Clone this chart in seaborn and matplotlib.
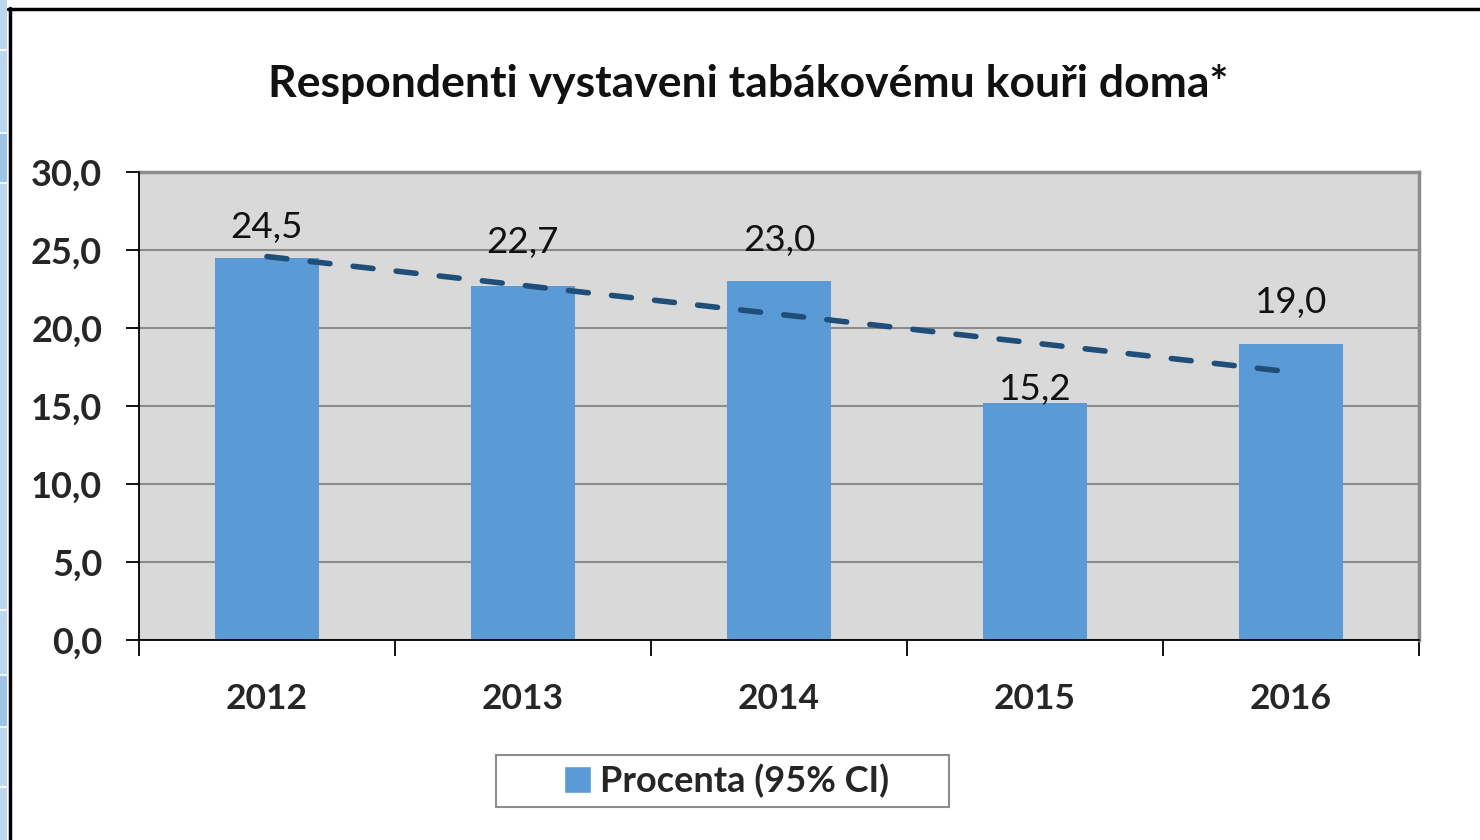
import numpy as np
import pandas as pd
import matplotlib
matplotlib.use("Agg")
import matplotlib.pyplot as plt
from matplotlib.patches import Patch, Rectangle
from matplotlib.lines import Line2D
import seaborn as sns

# ---- data ----
years = ["2012", "2013", "2014", "2015", "2016"]
values = [24.5, 22.7, 23.0, 15.2, 19.0]
value_labels = ["24,5", "22,7", "23,0", "15,2", "19,0"]
y_ticks = [0, 5, 10, 15, 20, 25, 30]
y_tick_labels = ["0,0", "5,0", "10,0", "15,0", "20,0", "25,0", "30,0"]
series_name = "Procenta (95% CI)"
title = "Respondenti vystaveni tabákovému kouři doma*"

# label offsets above bar tops (points) - layout only
label_offsets = [14, 23.5, 22, 2, 22]

BAR = "#5B9BD5"
TREND = "#1F4E79"
BG = "#D9D9D9"
GRID = "#8C8C8C"

sns.set_theme(style="white")
plt.rcParams["font.family"] = ["Lato", "DejaVu Sans"]

W, H = 1480, 840
fig = plt.figure(figsize=(W / 100, H / 100), dpi=100)
fig.patch.set_facecolor("white")

ax = fig.add_axes([139 / W, 1 - 640 / H, 1280 / W, 468 / H])
ax.set_facecolor(BG)

df = pd.DataFrame({"year": years, "value": values})
sns.barplot(data=df, x="year", y="value", color=BAR, saturation=1,
            width=0.41, linewidth=0, ax=ax, zorder=3)

# linear trend line
sns.regplot(x=np.arange(len(values)), y=np.array(values), ci=None,
            scatter=False, truncate=True, ax=ax,
            line_kws=dict(color=TREND, lw=4.0, ls=(0, (3.6, 4.2)),
                          dash_capstyle="round", zorder=4))

ax.set_xlim(-0.5, len(years) - 0.5)
ax.set_ylim(0, 30)
ax.set_yticks(y_ticks)
ax.set_yticklabels(y_tick_labels, fontsize=26, fontweight="bold")
ax.set_xticks(range(len(years)))
ax.set_xticklabels(years, fontsize=25.5, fontweight="bold")
ax.set_xticks(np.arange(-0.5, len(years)), minor=True)
ax.set_xlabel("")
ax.set_ylabel("")

ax.yaxis.grid(True, color=GRID, lw=1.5)
ax.xaxis.grid(False)
ax.set_axisbelow(True)

ax.tick_params(axis="y", which="major", left=True, direction="out",
               length=9.5, width=1.3, color="black", pad=17)
ax.tick_params(axis="x", which="major", bottom=True, length=0, pad=31)
ax.tick_params(axis="x", which="minor", bottom=True, direction="out",
               length=11.5, width=1.3, color="black")

for s in ["top", "right"]:
    ax.spines[s].set_color(GRID)
    ax.spines[s].set_linewidth(2.5)
for s in ["left", "bottom"]:
    ax.spines[s].set_color("black")
    ax.spines[s].set_linewidth(1.3)
    ax.spines[s].set_zorder(5)

for i, (v, lab, off) in enumerate(zip(values, value_labels, label_offsets)):
    ax.annotate(lab, (i, v), xytext=(0, off), textcoords="offset points",
                ha="center", va="baseline", fontsize=26.5, color="#111111",
                zorder=6)

fig.text(748 / W, 1 - 97 / H, title, ha="center", va="baseline",
         fontsize=32, fontweight="bold", color="#111111")

# legend box
fig.add_artist(Rectangle((496 / W, 1 - 807 / H), 453 / W, 52 / H,
                         transform=fig.transFigure, facecolor="white",
                         edgecolor=GRID, lw=1.5))
fig.legend(handles=[Patch(facecolor=BAR, label=series_name)],
           loc="center", bbox_to_anchor=(727 / W, 1 - 781 / H),
           frameon=False, prop=dict(weight="bold", size=26),
           handlelength=0.75, handleheight=0.75, handletextpad=0.25)

# outer frame decoration
fig.add_artist(Rectangle((0, 0), 7 / W, 1, transform=fig.transFigure,
                         facecolor="#BDD7EE", edgecolor="none"))
fig.add_artist(Rectangle((0, 1 - 183 / H), 7 / W, 50 / H, transform=fig.transFigure,
                         facecolor="#9DC3E6", edgecolor="none"))
fig.add_artist(Rectangle((0, 1 - 727 / H), 7 / W, 52 / H, transform=fig.transFigure,
                         facecolor="#9DC3E6", edgecolor="none"))
for yy in [50, 133, 183, 610, 675, 727, 787]:
    fig.add_artist(Line2D([0, 7 / W], [1 - yy / H, 1 - yy / H], transform=fig.transFigure,
                          color="white", lw=1.2))
fig.add_artist(Line2D([9.5 / W, 9.5 / W], [0, 1 - 8 / H], transform=fig.transFigure,
                      color="black", lw=2.5))
fig.add_artist(Line2D([8 / W, 1], [1 - 8.5 / H, 1 - 8.5 / H], transform=fig.transFigure,
                      color="black", lw=2.5))

fig.savefig("out.png", dpi=100)
